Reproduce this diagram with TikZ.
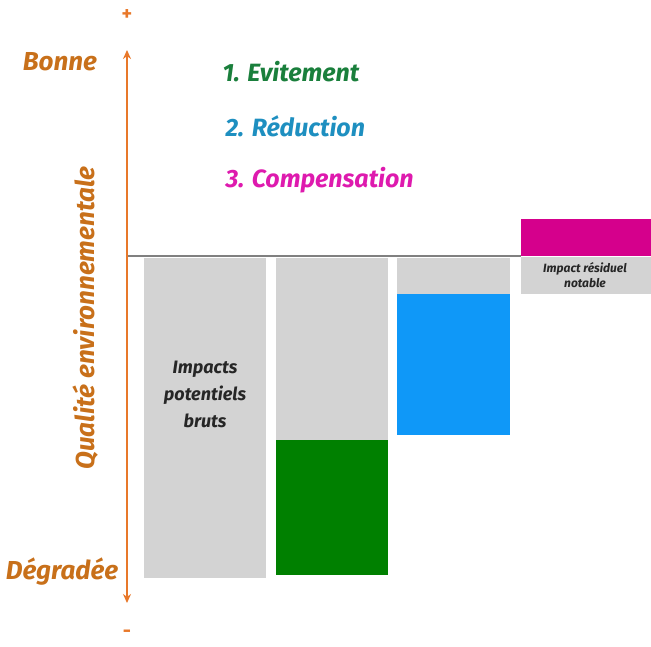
\documentclass[tikz,border=0pt]{standalone}
\usepackage{fontspec}
\newfontfamily\myriad{Fira Sans}
\usepackage{tikz}
\usetikzlibrary{arrows.meta}
\usetikzlibrary{positioning}

\definecolor{axeorange}{HTML}{E8782A}
\definecolor{texteorange}{HTML}{C8701A}
\definecolor{grisbarre}{HTML}{D3D3D3}
\definecolor{vertevit}{HTML}{008000}
\definecolor{bleureduc}{HTML}{0F98F8}
\definecolor{rosecomp}{HTML}{D5008C}
\definecolor{textevert}{HTML}{1A7F3C}
\definecolor{textebleu}{HTML}{1E8FC0}
\definecolor{texterose}{HTML}{DE1AAE}

\begin{document}
\begin{tikzpicture}[x=1pt,y=-1pt,
  lbl/.style={font=\myriad\bfseries\itshape},
  axelbl/.style={lbl,text=texteorange,font=\myriad\bfseries\itshape\fontsize{26}{30}\selectfont},
  etape/.style={lbl,anchor=west,font=\myriad\bfseries\itshape\fontsize{25}{28}\selectfont},
  barlbl/.style={lbl,align=center,text=black!85}]
  \useasboundingbox (0,0) rectangle (651,646);

  % barres
  \fill[grisbarre] (144,258) rectangle (266,578);
  \fill[grisbarre] (276,258) rectangle (388,440);
  \fill[vertevit]  (276,440) rectangle (388,575);
  \fill[grisbarre] (397,258) rectangle (510,294);
  \fill[bleureduc] (397,294) rectangle (510,435);
  \fill[grisbarre] (521,257) rectangle (651,294);
  \fill[rosecomp]  (521,219) rectangle (651,256);

  % axe
  \coordinate (haut) at (127,50);
  \coordinate (bas)  at (127,603);
  \coordinate (zero) at (127,256);
  \coordinate (fin)  at (521,256);
  \draw[black!50,line width=1.6pt] (zero) -- (fin);
  \draw[axeorange,line width=2.6pt,{Stealth[length=9pt,width=8pt]}-{Stealth[length=9pt,width=8pt]}] (bas) -- (haut);

  \node[text=axeorange,font=\myriad\bfseries\fontsize{20}{20}\selectfont] (plus)  at (127,15)  {+};
  \node[text=axeorange,font=\myriad\bfseries\fontsize{20}{20}\selectfont] (moins) at (127,634) {-};

  \node[axelbl] (bonne)    at (60,62)  {Bonne};
  \node[axelbl] (degradee) at (62,572) {Dégradée};
  \node[axelbl,rotate=90] (qualite) at (86,318) {Qualité environnementale};

  \node[etape,text=textevert] (evit) at (219,72)  {1. Evitement};
  \node[etape,text=textebleu] (reduc) at (222,126) {2. Réduction};
  \node[etape,text=texterose] (comp) at (222,180) {3. Compensation};

  \node[barlbl,font=\myriad\bfseries\itshape\fontsize{18}{27}\selectfont] (bruts) at (205,394) {Impacts\\potentiels\\bruts};
  \node[barlbl,font=\myriad\bfseries\itshape\fontsize{12}{15}\selectfont] (residuel) at (585,275) {Impact résiduel\\notable};
\end{tikzpicture}
\end{document}
